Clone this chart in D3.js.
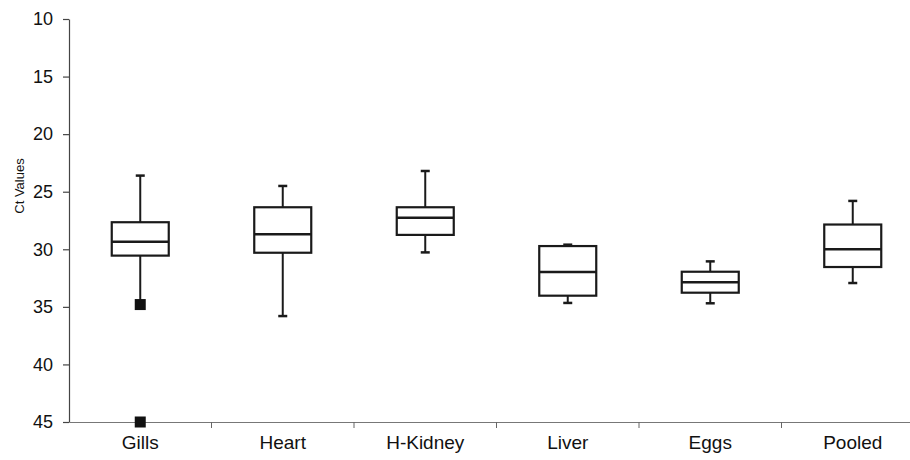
<!DOCTYPE html>
<html>
<head>
<meta charset="utf-8">
<script src="https://cdn.jsdelivr.net/npm/d3@7"></script>
<style>
  body { margin: 0; background: #fff; }
  text { font-family: "Liberation Sans", Arial, sans-serif; fill: #111; }
</style>
</head>
<body>
<div id="chart"></div>
<script>
// tissues and their Ct value summaries
const tissues = ['Gills', 'Heart', 'H-Kidney', 'Liver', 'Eggs', 'Pooled'];
const whiskerLow = [23.6, 24.5, 23.2, 29.6, 31.05, 25.8];
const q1 = [27.65, 26.35, 26.35, 29.72, 31.95, 27.85];
const median = [29.35, 28.7, 27.27, 31.98, 32.87, 30.0];
const q3 = [30.55, 30.3, 28.75, 34.03, 33.77, 31.54];
const whiskerHigh = [34.8, 35.8, 30.27, 34.66, 34.69, 32.93];
// outliers: [tissue, value]
const outliers = [['Gills', 34.8], ['Gills', 45]];
const yTicks = [10, 15, 20, 25, 30, 35, 40, 45];

const width = 910, height = 460;
const margin = { top: 19, right: -14, bottom: 38, left: 69 };

const svg = d3.select('#chart').append('svg')
  .attr('width', width)
  .attr('height', height);

const x = d3.scaleBand()
  .domain(tissues)
  .range([margin.left, width - margin.right]);

const y = d3.scaleLinear()
  .domain([10, 45])
  .range([margin.top, height - margin.bottom]);

const boxW = x.bandwidth() * 0.4;
const capW = 9;

// y axis
const yAxis = svg.append('g')
  .attr('transform', `translate(${margin.left},0)`)
  .call(d3.axisLeft(y).tickValues(yTicks).tickSize(6).tickPadding(10).tickSizeOuter(0));
yAxis.select('.domain').attr('stroke', '#444').attr('stroke-width', 1.2);
yAxis.selectAll('.tick line').attr('stroke', '#444').attr('stroke-width', 1.2);
yAxis.selectAll('.tick text').style('font-size', '18px').attr('fill', '#111');

// x axis (at value 45)
const xAxis = svg.append('g')
  .attr('transform', `translate(0,${y(45)})`)
  .call(d3.axisBottom(x).tickSize(0).tickPadding(14).tickSizeOuter(0));
xAxis.select('.domain').attr('stroke', '#777').attr('stroke-width', 1.2);
xAxis.selectAll('.tick text').style('font-size', '19px').attr('fill', '#111');

// category separators
svg.append('g').selectAll('line')
  .data(tissues)
  .join('line')
  .attr('x1', d => x(d) + x.bandwidth())
  .attr('x2', d => x(d) + x.bandwidth())
  .attr('y1', y(45))
  .attr('y2', y(45) + 6)
  .attr('stroke', '#666')
  .attr('stroke-width', 1);

// axis title
svg.append('text')
  .attr('transform', `translate(24,186) rotate(-90)`)
  .attr('text-anchor', 'middle')
  .style('font-size', '13px')
  .text('Ct Values');

const boxes = svg.append('g').selectAll('g')
  .data(tissues.map((t, i) => ({
    t, lo: whiskerLow[i], q1: q1[i], med: median[i], q3: q3[i], hi: whiskerHigh[i]
  })))
  .join('g')
  .attr('transform', d => `translate(${x(d.t) + x.bandwidth() / 2},0)`);

boxes.append('line')
  .attr('y1', d => y(d.lo)).attr('y2', d => y(d.q1))
  .attr('stroke', '#1a1a1a').attr('stroke-width', 2);
boxes.append('line')
  .attr('y1', d => y(d.q3)).attr('y2', d => y(d.hi))
  .attr('stroke', '#1a1a1a').attr('stroke-width', 2);
boxes.append('line')
  .attr('x1', -capW / 2).attr('x2', capW / 2)
  .attr('y1', d => y(d.lo)).attr('y2', d => y(d.lo))
  .attr('stroke', '#1a1a1a').attr('stroke-width', 2.5);
boxes.append('line')
  .attr('x1', -capW / 2).attr('x2', capW / 2)
  .attr('y1', d => y(d.hi)).attr('y2', d => y(d.hi))
  .attr('stroke', '#1a1a1a').attr('stroke-width', 2.5);
boxes.append('rect')
  .attr('x', -boxW / 2)
  .attr('width', boxW)
  .attr('y', d => y(d.q1))
  .attr('height', d => y(d.q3) - y(d.q1))
  .attr('fill', '#fff')
  .attr('stroke', '#1a1a1a')
  .attr('stroke-width', 2.2);
boxes.append('line')
  .attr('x1', -boxW / 2).attr('x2', boxW / 2)
  .attr('y1', d => y(d.med)).attr('y2', d => y(d.med))
  .attr('stroke', '#1a1a1a').attr('stroke-width', 2.5);

// outliers
svg.append('g').selectAll('rect')
  .data(outliers)
  .join('rect')
  .attr('x', d => x(d[0]) + x.bandwidth() / 2 - 5.5)
  .attr('y', d => y(d[1]) - 5.5)
  .attr('width', 11)
  .attr('height', 11)
  .attr('fill', '#111');
</script>
</body>
</html>
